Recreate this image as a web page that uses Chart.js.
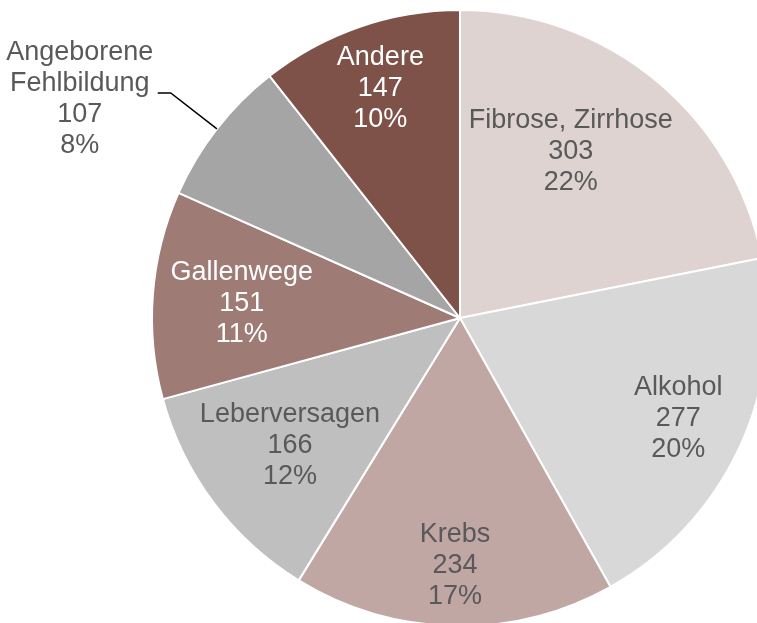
<!DOCTYPE html>
<html lang="de">
<head>
    <meta charset="UTF-8">
    <title>Ursachen</title>
    <script src="https://cdn.jsdelivr.net/npm/chart.js"></script>
    <style>
        html, body { margin: 0; padding: 0; background: #fff; }
        .wrap { width: 757px; height: 623px; overflow: hidden; position: relative; }
        #grafico { position: absolute; left: 0; top: 0; }
    </style>
</head>
<body>
    <div class="wrap">
        <canvas id="grafico" width="800" height="700"></canvas>
    </div>

    <script>
        // Daten (im Uhrzeigersinn ab 12 Uhr)
        const kategorien = [["Fibrose, Zirrhose"], ["Alkohol"], ["Krebs"], ["Leberversagen"], ["Gallenwege"], ["Angeborene", "Fehlbildung"], ["Andere"]];
        const werte = [303, 277, 234, 166, 151, 107, 147];
        const prozente = ["22%", "20%", "17%", "12%", "11%", "8%", "10%"];

        const farben = ["#dfd3d1", "#d8d8d8", "#c0a7a3", "#bfbfbf", "#9e7b74", "#a5a5a5", "#7f5249"];
        const textFarben = ["#595959", "#595959", "#595959", "#595959", "#ffffff", "#595959", "#ffffff"];
        // Abstand des Labels vom Mittelpunkt (Anteil am Radius), null = außen mit Linie
        const labelRadius = [0.65, 0.78, 0.805, 0.69, 0.71, null, 0.79];
        const labelWinkel = [-5.8, 0, 0, 0, -0.5, 0, 0];

        const labelPlugin = {
            id: 'labels',
            afterDatasetsDraw(chart) {
                const ctx = chart.ctx;
                const meta = chart.getDatasetMeta(0);
                ctx.save();
                ctx.font = "27px 'Liberation Sans', Arial, sans-serif";
                ctx.textAlign = "center";
                ctx.textBaseline = "middle";
                const zeile = 31;
                meta.data.forEach((arc, i) => {
                    const { x, y, startAngle, endAngle, outerRadius } = arc.getProps(['x', 'y', 'startAngle', 'endAngle', 'outerRadius'], true);
                    const mitte = (startAngle + endAngle) / 2 + labelWinkel[i] * Math.PI / 180;
                    const zeilen = kategorien[i].concat([String(werte[i]), prozente[i]]);
                    ctx.fillStyle = textFarben[i];
                    if (labelRadius[i] !== null) {
                        const r = outerRadius * labelRadius[i];
                        const cx = x + Math.cos(mitte) * r;
                        const cy = y + Math.sin(mitte) * r;
                        const y0 = cy - (zeilen.length - 1) * zeile / 2;
                        zeilen.forEach((t, k) => ctx.fillText(t, cx, y0 + k * zeile));
                    } else {
                        // Außenlabel mit Führungslinie
                        const ex = x + Math.cos(mitte) * outerRadius;
                        const ey = y + Math.sin(mitte) * outerRadius;
                        const kx = x + Math.cos(mitte) * outerRadius * 1.19;
                        const ky = y + Math.sin(mitte) * outerRadius * 1.19;
                        const hx = kx - 13;
                        ctx.strokeStyle = "#000000";
                        ctx.lineWidth = 1.5;
                        ctx.beginPath();
                        ctx.moveTo(ex, ey);
                        ctx.lineTo(kx, ky);
                        ctx.lineTo(hx, ky);
                        ctx.stroke();
                        const tx = hx - 78;
                        const y0 = ky - 9 - zeile;
                        zeilen.forEach((t, k) => ctx.fillText(t, tx, y0 + k * zeile));
                    }
                });
                ctx.restore();
            }
        };

        const ctx = document.getElementById("grafico").getContext("2d");
        const grafico = new Chart(ctx, {
            type: 'pie',
            data: {
                labels: kategorien.map(k => k.join(" ")),
                datasets: [{
                    data: werte,
                    backgroundColor: farben,
                    borderColor: "#ffffff",
                    borderWidth: 2
                }]
            },
            options: {
                responsive: false,
                animation: false,
                radius: 308,
                layout: { padding: { left: 152, top: 10, right: 32, bottom: 74 } },
                plugins: {
                    legend: { display: false },
                    tooltip: { enabled: false }
                }
            },
            plugins: [labelPlugin]
        });
    </script>
</body>
</html>
